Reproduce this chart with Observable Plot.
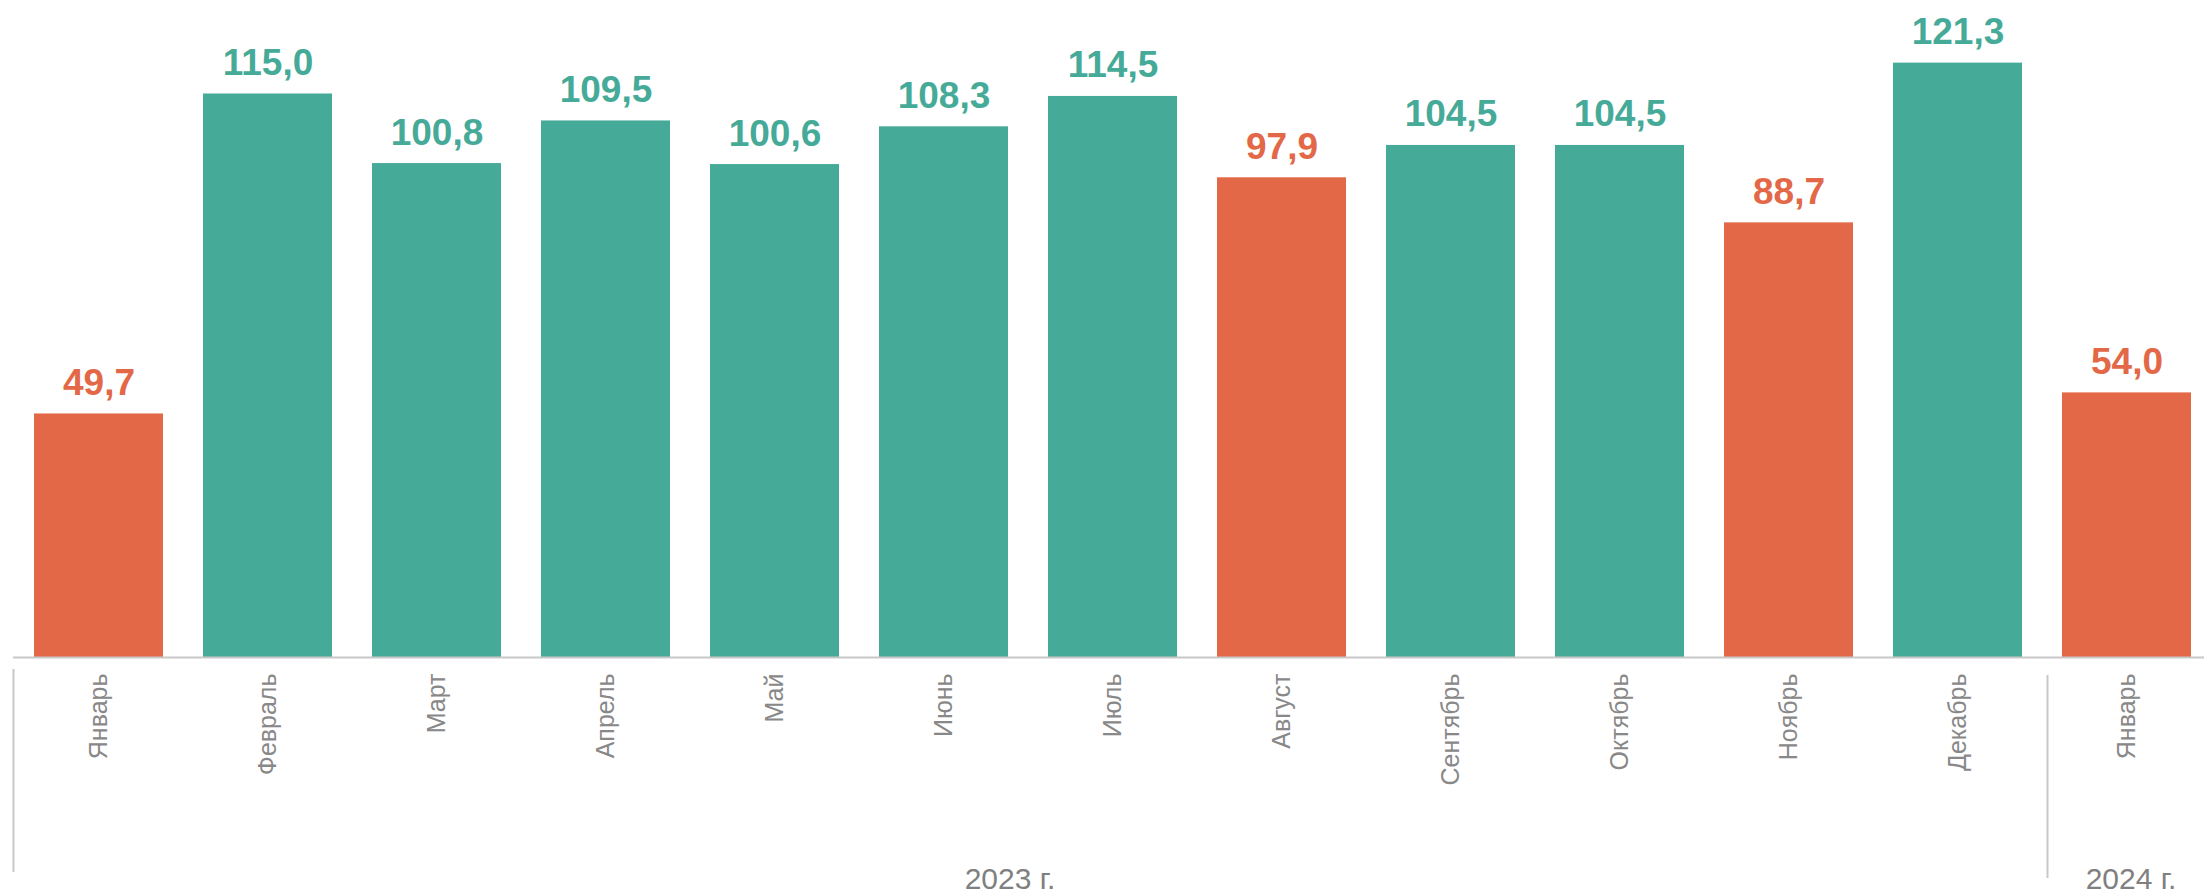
<!DOCTYPE html>
<html>
<head>
<meta charset="utf-8">
<script src="https://cdn.jsdelivr.net/npm/d3@7"></script>
<script src="https://cdn.jsdelivr.net/npm/@observablehq/plot@0.6"></script>
<style>
  html, body { margin: 0; padding: 0; background: #fff; }
  #chart { width: 2204px; height: 895px; }
</style>
</head>
<body>
<div id="chart"></div>
<script>
// Data
const keys = ["2023-01","2023-02","2023-03","2023-04","2023-05","2023-06","2023-07","2023-08","2023-09","2023-10","2023-11","2023-12","2024-01"];
const monthNames = ["Январь","Февраль","Март","Апрель","Май","Июнь","Июль","Август","Сентябрь","Октябрь","Ноябрь","Декабрь","Январь"];
const values = [49.7, 115.0, 100.8, 109.5, 100.6, 108.3, 114.5, 97.9, 104.5, 104.5, 88.7, 121.3, 54.0];
const years = ["2023 г.", "2024 г."];
const yearStart = ["2023-01", "2024-01"];
const yearAnchor = ["2023-06", "2024-01"];

const TEAL = "#46AA98";
const ORANGE = "#E36847";
const GRAY_TEXT = "#888888";
const GRAY_LINE = "#c8c8c8";

const data = keys.map((k, i) => ({key: k, name: monthNames[i], value: values[i]}));
const nameOf = new Map(data.map(d => [d.key, d.name]));
const fmt = v => d3.format(".1f")(v).replace(".", ",");
const colorOf = v => v < 100 ? ORANGE : TEAL;

const W = 2204, H = 895;
const baseline = 657;
const xRange = [14, 2211];
const step = (xRange[1] - xRange[0]) / keys.length;

const chart = Plot.plot({
  width: W,
  height: H,
  marginLeft: 13,
  marginRight: 0,
  marginTop: 0,
  marginBottom: H - baseline,
  style: {fontFamily: "'Liberation Sans', Arial, sans-serif", background: "#fff", overflow: "visible"},
  x: {domain: keys, range: xRange, paddingInner: 0.237, paddingOuter: 0.1185, align: 0.5},
  y: {domain: [0, 100], range: [baseline, baseline - 490], axis: null},
  marks: [
    Plot.barY(data, {x: "key", y: "value", fill: d => colorOf(d.value)}),
    Plot.ruleY([0], {stroke: GRAY_LINE, strokeWidth: 2}),
    Plot.text(data, {
      x: "key", y: "value", text: d => fmt(d.value),
      fill: d => colorOf(d.value),
      fontSize: 37, fontWeight: "bold",
      lineAnchor: "bottom", dy: -19
    }),
    Plot.axisX({
      tickSize: 0, tickPadding: 16, tickRotate: -90,
      tickFormat: k => nameOf.get(k),
      fontSize: 25, color: GRAY_TEXT, label: null
    }),
    // year separators
    Plot.ruleX([yearStart[0]], {x: d => d, dx: -step / 2 - 1, stroke: GRAY_LINE, strokeWidth: 2, insetTop: 669, insetBottom: -(872 - baseline)}),
    Plot.ruleX([yearStart[1]], {x: d => d, dx: -step / 2 + 5, stroke: GRAY_LINE, strokeWidth: 2, insetTop: 675, insetBottom: -(878 - baseline)}),
    // year labels
    Plot.text([years[0]], {x: () => yearAnchor[0], text: d => d, frameAnchor: "bottom", lineAnchor: "bottom", dx: 66, dy: 231, fill: "#808080", fontSize: 30}),
    Plot.text([years[1]], {x: () => yearAnchor[1], text: d => d, frameAnchor: "bottom", lineAnchor: "bottom", dx: 4, dy: 231, fill: "#808080", fontSize: 30})
  ]
});

document.getElementById("chart").appendChild(chart);
</script>
</body>
</html>
